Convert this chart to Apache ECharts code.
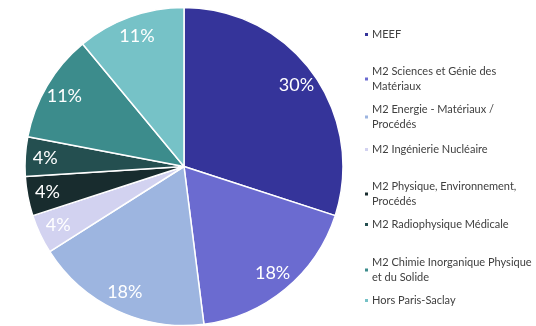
<!DOCTYPE html>
<html><head><meta charset="utf-8">
<script src="https://cdn.jsdelivr.net/npm/echarts@6/dist/echarts.min.js"></script>
<style>html,body{margin:0;padding:0;background:#fff}#c{width:536px;height:326px}</style>
</head><body><div id="c"></div>
<script>
const categories = ["MEEF","M2 Sciences et Génie des Matériaux","M2 Energie - Matériaux / Procédés","M2 Ingénierie Nucléaire","M2 Physique, Environnement, Procédés","M2 Radiophysique Médicale","M2 Chimie Inorganique Physique et du Solide","Hors Paris-Saclay"];
const legendLabels = ["MEEF","M2 Sciences et Génie des\nMatériaux","M2 Energie - Matériaux /\nProcédés","M2 Ingénierie Nucléaire","M2 Physique, Environnement,\nProcédés","M2 Radiophysique Médicale","M2 Chimie Inorganique Physique\net du Solide","Hors Paris-Saclay"];
const values = [30,18,18,4,4,4,11,11];
const colors = ["#35349A","#6B6BD0","#9DB5E0","#D2D2F0","#182C2E","#244F50","#3C8C8C","#76C2C7"];
const legendTops = [22,59,97,137,174,212,250,288];

const data = categories.map((n,i)=>({name:n,value:values[i],itemStyle:{color:colors[i]}}));
const labelData = categories.map((n,i)=>({name:n,value:values[i]}));

const legends = categories.map((n,i)=>({
  data:[n], left:358, top:legendTops[i], orient:'vertical',
  itemWidth:5, itemHeight:5, itemGap:0, icon:'rect', selectedMode:false,
  formatter:()=>legendLabels[i],
  textStyle:{fontFamily:'Lato',fontSize:11,color:'#404040',lineHeight:15,padding:[0,0,0,-2]}
}));

const chart = echarts.init(document.getElementById('c'));
chart.setOption({
  animation:false,
  legend:legends,
  series:[{
    type:'pie', center:[184,166.5], radius:[0,159], startAngle:90, clockwise:true,
    data:data, label:{show:false}, labelLine:{show:false},
    itemStyle:{borderColor:'#fff',borderWidth:1.5}, emphasis:{disabled:true}
  },{
    type:'pie', center:[184,166.5], radius:[113,159], startAngle:90, clockwise:true, silent:true,
    data:labelData, itemStyle:{color:'rgba(0,0,0,0)'}, labelLine:{show:false},
    label:{show:true,position:'inside',formatter:'{c}%',color:'#fff',fontFamily:'Lato',fontSize:18},
    emphasis:{disabled:true}
  }]
});
</script></body></html>
